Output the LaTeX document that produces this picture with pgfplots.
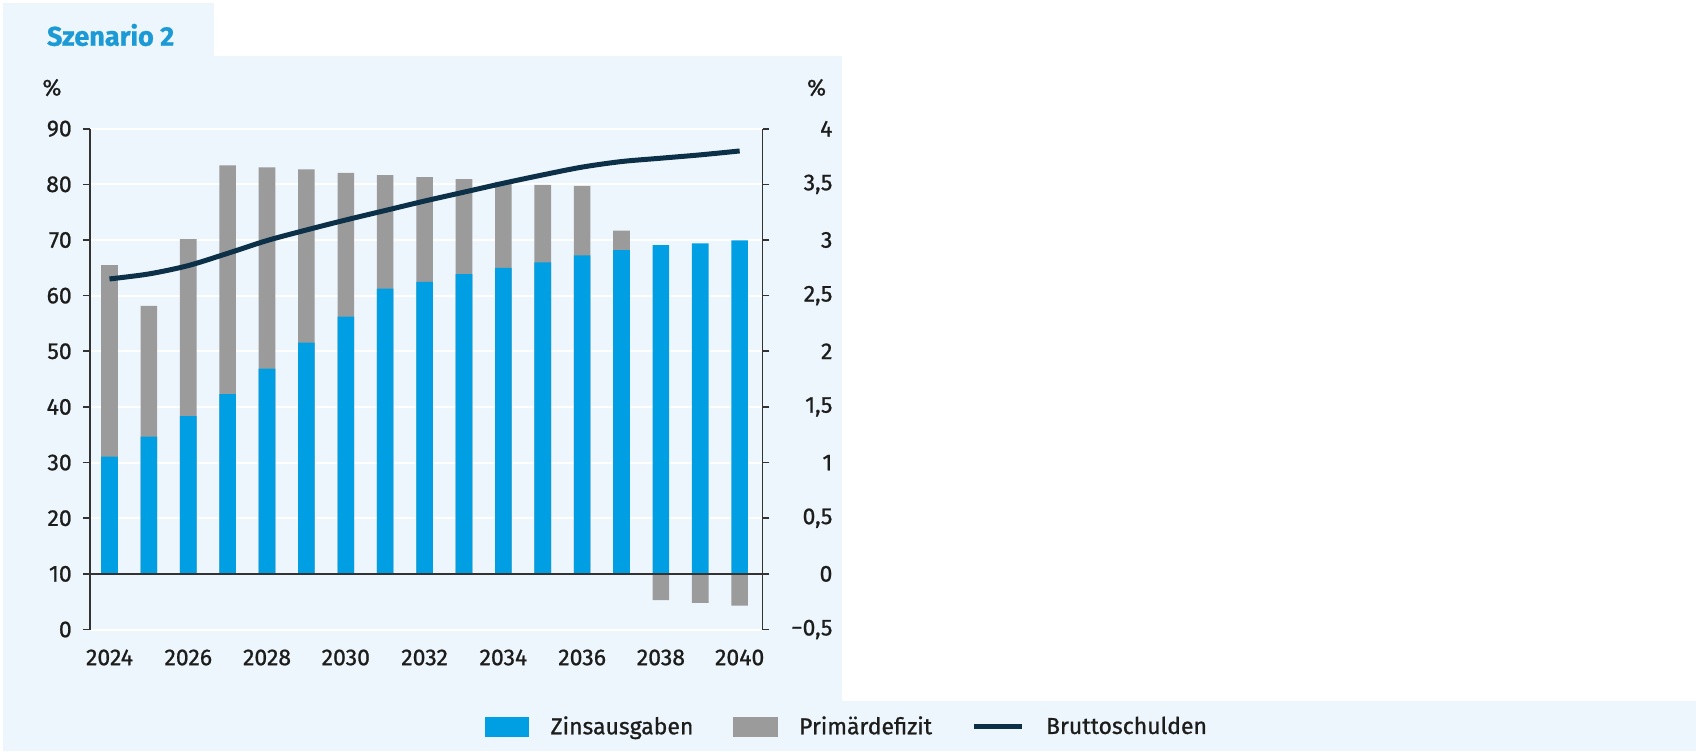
\documentclass[border=0pt]{standalone}
\usepackage{fontspec}
\setmainfont{Fira Sans}[FakeBold=0.9]
\usepackage{pgfplots}
\usepackage{pgfplotstable}
\pgfplotsset{compat=1.18}
\definecolor{bgc}{HTML}{EEF6FD}
\definecolor{bluec}{HTML}{009FE3}
\definecolor{greyc}{HTML}{9B9B9B}
\definecolor{navyc}{HTML}{0B3048}
\definecolor{titlec}{HTML}{1B9AD6}
\definecolor{txtc}{HTML}{1D1D1B}
\definecolor{axc}{HTML}{333333}

\pgfplotstableread{
year zins prim brutto
2024 1.054 1.720 63.0
2025 1.234 1.174 63.9
2026 1.417 1.590 65.4
2027 1.616 2.054 67.6
2028 1.844 1.808 69.9
2029 2.078 1.556 71.8
2030 2.312 1.292 73.6
2031 2.564 1.019 75.3
2032 2.624 0.941 77.0
2033 2.693 0.854 78.6
2034 2.750 0.773 80.2
2035 2.800 0.696 81.7
2036 2.861 0.626 83.1
2037 2.909 0.176 84.1
2038 2.954 -0.237 84.7
2039 2.969 -0.261 85.3
2040 2.996 -0.285 86.0
}\data

\newcommand{\tf}{\fontsize{11.5}{13}\selectfont}

\begin{document}
\begin{tikzpicture}
\useasboundingbox (0,0) rectangle (848pt,-375.5pt);
\fill[white] (0,0) rectangle (848pt,-375.5pt);
\fill[bgc] (1.6pt,-1.6pt) rectangle (107pt,-28.5pt);
\fill[bgc] (1.6pt,-28pt) rectangle (420.8pt,-350.8pt);
\fill[bgc] (1.6pt,-350.5pt) rectangle (848pt,-375.5pt);
\node[font=\fontsize{13.5}{15}\selectfont\bfseries, text=titlec] at (55.3pt,-17.5pt) {Szenario 2};
\node[font=\tf, text=txtc] at (26pt,-43.8pt) {\%};
\node[font=\tf, text=txtc] at (408.3pt,-43.8pt) {\%};

\pgfplotsset{
  common/.style={
    at={(44.9pt,-64.35pt)}, anchor=north west,
    scale only axis, width=336.35pt, height=250.4pt,
    xmin=2023.5, xmax=2040.58,
    tick align=outside, major tick length=3.5pt,
    tick style={axc, line width=0.8pt},
    axis line style={axc, line width=0.8pt},
    tick label style={font=\tf, text=txtc},
  }
}

\begin{axis}[common,
  ymin=-0.5, ymax=4,
  hide x axis,
  axis y line*=right,
  ytick={-0.5,0,0.5,1,1.5,2,2.5,3,3.5,4},
  yticklabels={{−0,5},0,{0,5},1,{1,5},2,{2,5},3,{3,5},4},
  yticklabel style={anchor=east, xshift=35pt},
  ymajorgrids, grid style={white, line width=1pt},
]
\addplot[ybar, bar shift=0pt, bar width=8.3pt, fill=greyc, draw=none]
  table[x=year, y expr={\thisrow{prim}>0 ? \thisrow{zins}+\thisrow{prim} : \thisrow{prim}}] {\data};
\addplot[ybar, bar shift=0pt, bar width=8.3pt, fill=bluec, draw=none]
  table[x=year, y=zins] {\data};
\draw[axc, line width=1.1pt] (axis cs:2023.5,0) -- (axis cs:2040.58,0);
\end{axis}

\begin{axis}[common,
  ymin=0, ymax=90,
  axis y line*=left, axis x line*=bottom,
  x axis line style={draw=none},
  xtick={2024,2026,...,2040},
  xticklabels={2024,2026,2028,2030,2032,2034,2036,2038,2040},
  major x tick style={draw=none},
  xticklabel style={yshift=-3pt},
  ytick={0,10,...,90},
  yticklabels={0,10,20,30,40,50,60,70,80,90},
  yticklabel style={xshift=-2pt},
  legend columns=3,
  legend style={draw=none, fill=none, font=\tf, text=txtc,
    at={(0.5869,-0.1943)}, anchor=west, inner sep=0pt,
    nodes={inner sep=0pt},
    /tikz/every odd column/.append style={column sep=10.8pt},
    /tikz/every even column/.append style={column sep=20pt}},
]
\addlegendimage{legend image code/.code={\fill[bluec] (0pt,-4.6pt) rectangle (21.6pt,4.6pt);}}
\addlegendentry{Zinsausgaben}
\addlegendimage{legend image code/.code={\fill[greyc] (0pt,-4.6pt) rectangle (21.6pt,4.6pt);}}
\addlegendentry{Primärdefizit}
\addplot[smooth, line width=2.5pt, color=navyc,
  legend image code/.code={\draw[navyc, line width=2.4pt] (0pt,0pt) -- (23.8pt,0pt);}]
  table[x=year, y=brutto] {\data};
\addlegendentry{Bruttoschulden}
\end{axis}
\end{tikzpicture}
\end{document}
